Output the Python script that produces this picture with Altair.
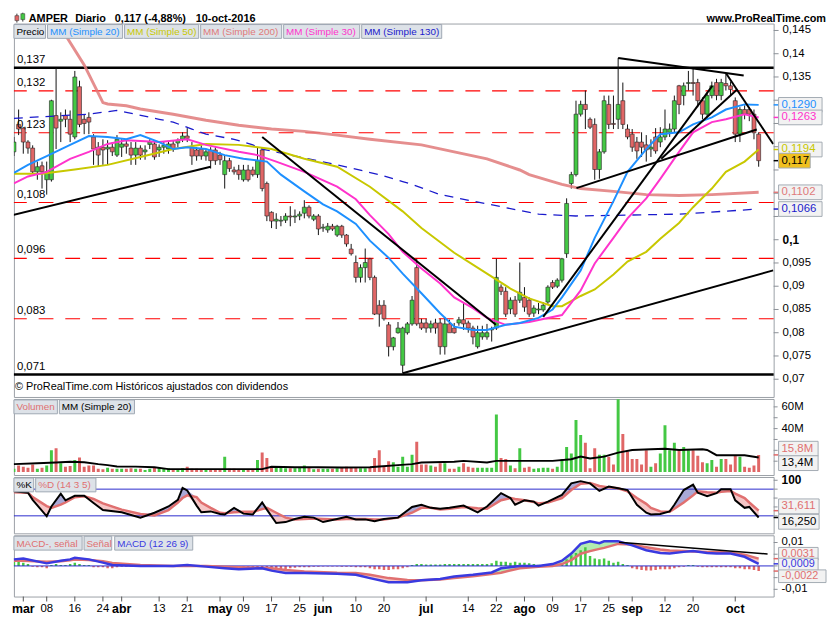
import altair as alt
import pandas as pd

# ---------------- data ----------------
opens = [.1189,.1248,.1240,.1210,.1197,.1146,.1159,.1129,.1129,.1267,.1255,.1267,.1259,.1221,.1329,.1259,.1263,.1221,.1199,.1199,
         .1195,.1199,.1182,.1199,.1206,.1197,.1182,.1197,.1189,.1205,.1206,.1193,.1199,.1195,.1206,.1208,.1216,.1223,.1199,.1193,
         .1195,.1180,.1193,.1193,.1182,.1140,.1170,.1150,.1150,.1129,.1150,.1150,.1140,.1193,.1121,.1059,.1040,.1040,.1042,.1051,
         .1049,.1051,.1057,.1070,.1044,.1051,.1025,.1021,.1029,.1010,.1029,.1010,.0980,.0951,.0919,.0940,.0959,.0919,.0859,.0859,
         .0817,.0770,.0800,.0730,.0800,.0819,.0940,.0821,.0821,.0810,.0821,.0821,.0770,.0819,.0810,.0821,.0828,.0821,.0810,.0770,
         .0791,.0791,.0806,.0810,.0898,.0889,.0851,.0870,.0870,.0876,.0870,.0842,.0849,.0849,.0866,.0908,.0900,.0913,.0970,.1121,
         .1140,.1270,.1291,.1259,.1248,.1151,.1189,.1291,.1250,.1259,.1299,.1238,.1227,.1210,.1210,.1204,.1195,.1221,.1210,.1221,
         .1231,.1238,.1331,.1310,.1336,.1338,.1338,.1299,.1270,.1310,.1338,.1310,.1336,.1331,.1299,.1227,.1280,.1280,.1270,.1227]
highs = [.1221,.1280,.1242,.1214,.1203,.1168,.1168,.1168,.1301,.1369,.1274,.1280,.1278,.1363,.1342,.1270,.1274,.1227,.1210,.1216,
         .1214,.1210,.1225,.1216,.1214,.1210,.1210,.1203,.1203,.1216,.1214,.1205,.1210,.1210,.1214,.1218,.1231,.1240,.1210,.1199,
         .1203,.1193,.1199,.1199,.1189,.1182,.1176,.1157,.1161,.1161,.1161,.1157,.1199,.1199,.1125,.1061,.1057,.1051,.1057,.1072,
         .1065,.1061,.1085,.1074,.1055,.1055,.1034,.1036,.1034,.1032,.1032,.1012,.0991,.0966,.0947,.0981,.0961,.0923,.0870,.0870,
         .0823,.0791,.0823,.0813,.0823,.0879,.0959,.0830,.0830,.0826,.0830,.0830,.0834,.0828,.0821,.0834,.0864,.0826,.0815,.0815,
         .0815,.0819,.0813,.0959,.0904,.0898,.0876,.0879,.0951,.0898,.0876,.0859,.0864,.0866,.0902,.0913,.0917,.0961,.1089,.1146,
         .1299,.1299,.1321,.1263,.1261,.1195,.1310,.1310,.1310,.1391,.1338,.1248,.1238,.1221,.1231,.1225,.1216,.1240,.1242,.1280,
         .1250,.1310,.1333,.1338,.1363,.1369,.1346,.1306,.1317,.1340,.1346,.1346,.1357,.1340,.1306,.1285,.1289,.1285,.1280,.1231]
lows = [.1180,.1225,.1185,.1185,.1142,.1129,.1110,.1097,.1125,.1195,.1210,.1242,.1210,.1216,.1242,.1227,.1227,.1161,.1157,.1161,
        .1161,.1180,.1178,.1178,.1185,.1161,.1161,.1172,.1172,.1195,.1172,.1178,.1185,.1185,.1189,.1199,.1210,.1210,.1161,.1170,
        .1172,.1170,.1153,.1161,.1161,.1110,.1146,.1140,.1129,.1125,.1125,.1136,.1133,.1104,.1040,.1025,.1023,.1029,.1036,.1029,
        .1036,.1042,.1046,.1046,.1040,.1010,.1017,.1015,.1019,.1006,.1004,.0985,.0966,.0908,.0908,.0908,.0913,.0838,.0813,.0826,
        .0749,.0762,.0798,.0713,.0796,.0815,.0815,.0806,.0800,.0800,.0798,.0753,.0753,.0806,.0798,.0815,.0806,.0800,.0775,.0766,
        .0785,.0785,.0781,.0806,.0881,.0834,.0840,.0834,.0864,.0845,.0834,.0834,.0840,.0845,.0862,.0894,.0896,.0908,.0961,.1110,
        .1136,.1265,.1238,.1238,.1129,.1131,.1185,.1238,.1238,.1238,.1238,.1216,.1189,.1174,.1178,.1168,.1178,.1185,.1199,.1214,
        .1221,.1231,.1270,.1289,.1321,.1310,.1285,.1259,.1263,.1304,.1300,.1300,.1321,.1310,.1210,.1210,.1259,.1255,.1216,.1157]
closes = [.1210,.1238,.1210,.1197,.1146,.1157,.1146,.1146,.1299,.1240,.1259,.1259,.1227,.1350,.1248,.1250,.1253,.1195,.1182,.1193,
          .1199,.1189,.1216,.1206,.1201,.1182,.1197,.1182,.1193,.1210,.1178,.1199,.1203,.1206,.1195,.1214,.1223,.1218,.1180,.1180,
          .1180,.1189,.1170,.1170,.1172,.1170,.1153,.1146,.1140,.1150,.1129,.1140,.1170,.1110,.1051,.1040,.1044,.1042,.1051,.1049,
          .1051,.1055,.1070,.1051,.1051,.1023,.1027,.1029,.1023,.1029,.1010,.0991,.0970,.0919,.0940,.0951,.0919,.0840,.0840,.0830,
          .0770,.0789,.0810,.0810,.0819,.0870,.0819,.0810,.0810,.0819,.0810,.0770,.0819,.0800,.0800,.0828,.0819,.0810,.0791,.0800,
          .0800,.0800,.0808,.0919,.0889,.0840,.0870,.0840,.0887,.0855,.0840,.0853,.0851,.0859,.0898,.0898,.0913,.0959,.1078,.1140,
          .1270,.1291,.1280,.1242,.1151,.1189,.1299,.1248,.1248,.1291,.1248,.1221,.1199,.1191,.1199,.1193,.1199,.1191,.1221,.1238,
          .1238,.1299,.1291,.1331,.1338,.1336,.1299,.1270,.1310,.1331,.1310,.1338,.1331,.1323,.1227,.1280,.1270,.1270,.1230,.1170]
volumes = [3,6,5,4,7,3,4,6,20,22,8,5,5.5,11,13.5,5,6,6,3,2.5,
           4,3,3,3,3,3.5,3,3,2,3,4,4,3.5,3.5,2.5,2.5,3.5,5,3,3,
           2.5,2.5,2.5,2.5,2.5,14,3,3,2.5,2.5,2.5,2.5,11,18,13,5,5,5,3.5,3.5,
           3.5,4,6,4,2.5,3,3,3,3,3.5,4,5,4,4,3.5,3.5,4,13,20,5,
           10,9,5,14,5,16,28,7,7,6,5,8,8,3,3,5,8,5,4,4,
           4,4,4,53,13,12,6,3.5,22,4,5,3,3.5,4,4,3,5,12,23,17,
           48,34,27,3.5,22,16,16,14,7,67,35,19,12,12,7,20,5,8,17,43,
           20,27,20,23,20,20,15,9,8,11,5,12,12,7,15,14,5,4,6,15.8]
macd_hist = [.0018,.0022,.0014,.0008,-.0003,-.0006,-.0006,-.001,.0004,.0008,.0004,.0004,.0008,.0014,.0008,.0004,.0004,-.0006,-.0006,-.0006,
             -.001,-.001,-.0006,-.0004,-.0004,-.0004,-.0004,-.0004,-.0003,-.0003,-.0003,-.0003,-.0002,-.0002,-.0002,.0002,.0003,.0002,-.0002,-.0003,
             -.0003,-.0003,-.0004,-.0004,-.0004,-.0006,-.0006,-.0006,-.0008,-.001,-.001,-.001,-.001,-.001,-.0014,-.0017,-.0014,-.0017,-.0014,-.001,
             -.0008,-.0006,-.0006,-.0006,-.0004,-.0003,-.0002,-.0002,-.0002,-.0002,-.0003,-.0004,-.0004,-.0006,-.0006,-.0006,-.001,-.0014,-.0014,-.0017,
             -.0017,-.0014,-.0014,-.001,-.0006,.0004,.0008,.0008,.0006,.0006,.0006,.0006,.0008,.0008,.0008,.0008,.0008,.0008,.0008,.0008,
             .0008,.0008,.0011,.0022,.0018,.0018,.0014,.0018,.0014,.0014,.0011,.0008,.0005,.0005,.0005,.0005,.0005,.0011,.0028,.0046,
             .0055,.0067,.008,.0042,.0032,.0028,.0032,.0022,.0014,.0018,.0008,.0004,-.001,-.0014,-.0017,-.002,-.002,-.0017,-.0014,-.0014,
             -.0014,-.001,-.0006,-.0003,.0004,.0004,-.0003,-.0006,-.0006,-.0006,-.0006,-.0006,-.0006,-.0006,-.001,-.001,-.0014,-.0014,-.0017,-.0022]

ma20_idx = [0,3,7,12,16,20,24,27,31,34,37,41,45,49,54,57,62,66,69,73,76,80,83,87,91,94,98,101,105,108,
            112,115,117,121,124,128,131,135,138,142,145,149,152,156,159]
ma20_val = [.1144,.1161,.1180,.1204,.1223,.1221,.1216,.1225,.1210,.1195,.1199,.1195,.1182,.1174,.1168,.1140,.1104,.1076,.1061,.1034,
            .0998,.0961,.0927,.0885,.0842,.0813,.0806,.0806,.0817,.0821,.0832,.0850,.0876,.0934,.1004,.1083,.1146,.1195,.1227,.1231,
            .1248,.1263,.1280,.1291,.1290]
ma30_idx = [0,3,7,12,16,20,24,31,37,41,48,52,56,62,69,73,76,80,83,87,91,94,98,101,105,110,117,121,124,128,131,135,138,142,145,149,152,156,159]
ma30_val = [.1121,.1136,.1146,.1174,.1189,.1206,.1214,.1210,.1216,.1204,.1189,.1182,.1168,.1146,.1114,.1087,.1053,.1012,.0974,.0938,
            .0906,.0876,.0853,.0832,.0817,.0823,.0838,.0891,.0949,.1004,.1046,.1089,.1131,.1189,.1231,.1253,.1259,.1270,.1263]
ma50_idx = [0,6,13,20,27,34,41,48,55,62,69,76,83,87,94,101,106,110,115,117,121,124,128,131,135,138,142,145,149,152,156,159]
ma50_val = [.1142,.1142,.1151,.1161,.1178,.1195,.1206,.1204,.1195,.1174,.1157,.1114,.1061,.1025,.0972,.0927,.0895,.0874,.0857,.0857,
            .0879,.0893,.0925,.0953,.0974,.1002,.1036,.1070,.1110,.1146,.1168,.1194]
ma200_idx = [9,11,15,19,20,24,27,34,41,48,55,62,69,76,87,101,108,110,115,117,121,128,135,142,149,159]
ma200_val = [.1480,.1440,.1376,.1295,.1292,.1288,.1281,.1270,.1257,.1246,.1238,.1233,.1225,.1216,.1204,.1174,.1150,.1140,.1125,.1119,
             .1110,.1104,.1097,.1095,.1097,.1102]
ma130_idx = [0,16,22,24,31,34,38,41,47,51,53,59,69,78,83,85,91,112,120,131,142,159]
ma130_val = [.1261,.1270,.1278,.1274,.1259,.1253,.1238,.1227,.1216,.1204,.1195,.1182,.1161,.1140,.1125,.1119,.1097,.1055,.1051,.1053,.1055,.1066]

red_levels = [0.132, 0.123, 0.108, 0.096, 0.083]
black_levels = [0.137, 0.071]
level_labels = [0.137, 0.132, 0.123, 0.108, 0.096, 0.083, 0.071]

trend_id = ["a", "a", "b", "b", "c", "c", "d", "d", "e", "e", "f", "f", "g", "g", "h", "h"]
trend_i = [-0.62, 42, 53, 102.9, 83, 162.1, 113, 149.1, 138.2, 154.4, 120.1, 158.6, 129, 155.8, 152.1, 162.1]
trend_p = [.1052, .1157, .1221, .0817, .0713, .0934, .0834, .1331, .1174, .1323, .1111, .1237, .1391, .1353, .1357, .1206]

volma_idx = [0,5,9,12,15,18,20,22,26,30,33,40,45,50,53,55,60,65,70,76,78,82,85,87,94,96,101,103,115,119,121,123,126,129,132,136,139,142,147,148,150,153,156,159]
volma_val = [7.3,8.2,8.8,9.4,9.0,7.3,6.4,5.2,5.0,4.5,2.7,2.7,2.7,2.7,2.7,4.8,4.5,4.5,4.2,4.5,5.2,6.4,7.3,8.8,9.4,10.3,8.8,10.3,10.3,11.8,
             14.2,12.4,14.2,17.9,20.3,20.9,21.5,20.3,20.9,20.3,15.5,15.5,15.5,13.4]

stoch_idx = [0,3,4,7,8,10,11,13,15,17,19,23,27,30,33,35,36,37,39,40,42,44,45,47,49,51,53,54,56,58,
             60,62,64,66,69,71,73,75,77,79,82,85,87,89,91,93,96,99,101,104,106,107,109,111,112,114,117,119,121,123,
             125,127,129,131,133,135,136,138,140,141,143,145,146,148,150,151,153,154,156,157,159]
stoch_k = [75,72,56,19,41,70,55,65,65,49,33,28,16,27,41,56,83,77,43,28,30,24,23,38,25,23,50,34,4,6,
           13,18,16,6,13,18,12,12,8,13,16,40,45,38,36,38,43,28,41,71,60,45,55,52,43,52,67,93,98,93,
           76,86,82,78,45,27,23,24,30,45,78,90,72,64,71,80,80,55,38,40,16.25]
stoch_d = [73,72,62,42,38,45,50,62,64,58,48,34,24,21,33,50,60,66,62,50,38,27,26,28,29,29,35,38,27,16,
           12,13,14,13,12,13,13,13,12,12,16,27,38,38,34,36,40,37,36,55,60,58,55,51,48,50,60,78,92,94,
           87,84,82,75,60,47,38,30,29,36,50,66,75,73,72,74,76,70,60,50,31.6]

macd_idx = [0,2,7,10,12,13,16,19,21,27,34,37,41,45,48,53,55,58,62,69,73,76,80,84,87,91,94,98,102,104,
            108,112,115,117,119,121,123,125,126,129,132,135,138,140,143,145,148,150,153,156,159]
macd_line = [.0028,.0032,.0011,.0022,.0028,.0035,.0028,.0014,.0004,0,0,.0004,-.0003,-.001,-.0014,-.001,-.002,-.003,-.003,-.0033,
             -.0038,-.0052,-.007,-.007,-.0061,-.0056,-.0045,-.0038,-.0028,-.001,0,0,.0008,.0022,.0053,.0094,.0105,.0097,.0105,.0105,
             .0088,.0067,.0055,.0053,.006,.0064,.0055,.0053,.0053,.0039,.0009]
macd_signal = [.0022,.0022,.0018,.002,.0024,.0027,.0025,.002,.0013,.0004,0,0,0,-.0003,-.0006,-.0009,-.001,-.0017,-.0024,-.0029,
               -.003,-.0038,-.0052,-.006,-.0061,-.0058,-.0052,-.0044,-.0035,-.0029,-.001,-.0004,0,.0008,.0025,.0052,.0063,.0073,.0077,.0094,
               .0091,.008,.007,.0066,.0064,.0062,.006,.006,.0056,.0048,.0031]
macd_trend_i = [129.2, 160.9]
macd_trend_v = [.0101, .0051]

tick_idx = [2,7,13,19,23,31,37,44,49,55,61,66,73,79,88,97,103,109,115,121,127,132,139,145,154]
tick_lbl = ["mar","08","16","24","abr","13","21","may","09","17","25","jun","10","20","jul","14","22","ago","09","17","25","sep","12","20","oct"]
month_names = ["mar","abr","may","jun","jul","ago","sep","oct"]

price_ticks = [0.07,0.075,0.08,0.085,0.09,0.095,0.1,0.105,0.11,0.115,0.12,0.125,0.13,0.135,0.14,0.145]
price_tick_lbl = ["0,07","0,075","0,08","0,085","0,09","0,095","0,1","","","","","","","0,135","0,14","0,145"]
vol_ticks = [10, 20, 30, 40, 50, 60]
vol_tick_lbl = ["", "", "", "40M", "", "60M"]
sto_ticks = [20, 40, 60, 80, 100]
sto_tick_lbl = ["", "", "", "", "100"]
macd_ticks = [-0.01, -0.005, 0, 0.005, 0.01]
macd_tick_lbl = ["-0,01", "", "", "", "0,01"]

price_box_val = [0.1290, 0.1263, 0.1194, 0.1102, 0.1066]
price_box_txt = ["0,1290", "0,1263", "0,1194", "0,1102", "0,1066"]
price_box_ser = ["ma20", "ma30", "ma50", "ma200", "ma130"]
last_price = 0.117

# ---------------- styling ----------------
FONT = "Liberation Sans"
W = 769
H_P, H_V, H_S, H_M = 378, 77, 57, 62
GREEN, RED = "#44c844", "#e06666"
COL = {"ma20": "#1e90ff", "ma30": "#ff33cc", "ma50": "#c8c800", "ma200": "#e07a7a", "ma130": "#1a1acc"}
CHIP_FILL, CHIP_STROKE = "#dde2e8", "#9ea8b3"
BOX_FILL, BOX_STROKE = "#f2f2f2", "#a3abb3"
AX = "#8a8f96"

xs = alt.Scale(domain=[0.0, 162.2], nice=False, zero=False, padding=0)
ps = alt.Scale(domain=[0.06618, 0.14649], nice=False, zero=False, padding=0)
vs = alt.Scale(domain=[-2.73, 67.27], nice=False, zero=False, padding=0)
ss = alt.Scale(domain=[-19.3, 107.3], nice=False, zero=False, padding=0)
ms = alt.Scale(domain=[-0.01308, 0.01308], nice=False, zero=False, padding=0)
dir_scale = alt.Scale(domain=["up", "down"], range=[GREEN, RED])

one = pd.DataFrame({"k": [0]})


def X(field="i"):
    return alt.X(f"{field}:Q", scale=xs, axis=None)


def txt(t, x, y, color="#000", size=11, weight="normal", align="left"):
    return alt.Chart(one).mark_text(text=t, color=color, fontSize=size, fontWeight=weight,
                                     align=align, baseline="middle", font=FONT).encode(
        x=alt.value(x), y=alt.value(y))


def chip(t, x0, x1, color, y0=1, h=14):
    r = alt.Chart(one).mark_rect(fill=CHIP_FILL, stroke=CHIP_STROKE, strokeWidth=1).encode(
        x=alt.value(x0), x2=alt.value(x1), y=alt.value(y0), y2=alt.value(y0 + h))
    return [r, txt(t, x0 + 2.5, y0 + h / 2 + 0.5, color, 10)]


def vbox(val, label, color, scale, half, x1, fill=BOX_FILL, size=11.5):
    d = pd.DataFrame({"bv": [val], "lab": [label]})
    r = alt.Chart(d).transform_calculate(t=f"datum.bv + {half}", b=f"datum.bv - {half}").mark_rect(
        fill=fill, stroke=BOX_STROKE, strokeWidth=1).encode(
        x=alt.value(W + 5), x2=alt.value(x1), y=alt.Y("t:Q", scale=scale, axis=None), y2="b:Q")
    t = alt.Chart(d).mark_text(color=color, fontSize=size, font=FONT, align="left", baseline="middle").encode(
        x=alt.value(W + 8), y=alt.Y("bv:Q", scale=scale, axis=None), text="lab:N")
    return [r, t]


def marker(val, color, scale):
    d = pd.DataFrame({"mv": [val]})
    return alt.Chart(d).mark_rule(color=color, strokeWidth=1.5).encode(
        x=alt.value(W), x2=alt.value(W + 5), y=alt.Y("mv:Q", scale=scale, axis=None))


def right_axis(vals, labels, scale, size=11.5, bold_labels=(), tick=5):
    """right-hand value axis drawn with rules and texts"""
    d = pd.DataFrame({"tv": vals, "tl": labels})
    d["b"] = [lab in bold_labels for lab in labels]
    ticks = alt.Chart(d).mark_rule(color=AX, strokeWidth=1).encode(
        x=alt.value(W), x2=alt.value(W + tick), y=alt.Y("tv:Q", scale=scale, axis=None))
    lab_n = alt.Chart(d).transform_filter("!datum.b").mark_text(
        align="left", baseline="middle", fontSize=size, font=FONT, color="#000").encode(
        x=alt.value(W + tick + 4), y=alt.Y("tv:Q", scale=scale, axis=None), text="tl:N")
    lab_b = alt.Chart(d).transform_filter("datum.b").mark_text(
        align="left", baseline="middle", fontSize=size + 0.5, fontWeight="bold", font=FONT, color="#000").encode(
        x=alt.value(W + tick + 4), y=alt.Y("tv:Q", scale=scale, axis=None), text="tl:N")
    return [ticks, lab_n, lab_b]


def time_axis():
    d = pd.DataFrame({"ti": tick_idx, "tl": tick_lbl})
    d["m"] = [t in month_names for t in tick_lbl]
    ticks = alt.Chart(d).mark_rule(color="#555", strokeWidth=1).encode(
        x=alt.X("ti:Q", scale=xs, axis=None), y=alt.value(H_M), y2=alt.value(H_M + 5))
    days = alt.Chart(d).transform_filter("!datum.m").mark_text(
        align="center", baseline="middle", fontSize=11.5, font=FONT, color="#000").encode(
        x=alt.X("ti:Q", scale=xs, axis=None), y=alt.value(H_M + 13), text="tl:N")
    months = alt.Chart(d).transform_filter("datum.m").mark_text(
        align="center", baseline="middle", fontSize=12.5, fontWeight="bold", font=FONT, color="#000").encode(
        x=alt.X("ti:Q", scale=xs, axis=None), y=alt.value(H_M + 13), text="tl:N")
    return [ticks, days, months]


def series_df(idx, vals):
    return pd.DataFrame({"i": idx, "v": vals})


# ---------------- price panel ----------------
cand = pd.DataFrame({"i": list(range(len(closes))), "o": opens, "h": highs, "l": lows, "c": closes})
cand["dir"] = ["up" if c >= o else "down" for o, c in zip(opens, closes)]

red_lines = alt.Chart(pd.DataFrame({"y": red_levels})).mark_rule(
    color="#ff0000", strokeDash=[15, 12], strokeWidth=1.2).encode(y=alt.Y("y:Q", scale=ps, axis=None))
black_lines = alt.Chart(pd.DataFrame({"y": black_levels})).mark_rule(
    color="#000", strokeWidth=2.5).encode(y=alt.Y("y:Q", scale=ps, axis=None))

wicks = alt.Chart(cand).mark_rule(color="#111", strokeWidth=1, clip=True).encode(
    x=X(), y=alt.Y("l:Q", scale=ps, axis=None), y2="h:Q")
bodies = alt.Chart(cand).mark_bar(size=4, stroke="#222", strokeWidth=0.6, clip=True).encode(
    x=X(), y=alt.Y("o:Q", scale=ps, axis=None), y2="c:Q",
    color=alt.Color("dir:N", scale=dir_scale, legend=None))


def ma_line(idx, vals, key, width=2, dash=None, opacity=1.0):
    kw = dict(color=COL[key], strokeWidth=width, clip=True, opacity=opacity)
    if dash:
        kw["strokeDash"] = dash
    return alt.Chart(series_df(idx, vals)).mark_line(**kw).encode(
        x=X(), y=alt.Y("v:Q", scale=ps, axis=None))


ma200_l = ma_line(ma200_idx, ma200_val, "ma200", 3, opacity=0.85)
ma130_l = ma_line(ma130_idx, ma130_val, "ma130", 1.3, dash=[9, 7])
ma50_l = ma_line(ma50_idx, ma50_val, "ma50", 2)
ma30_l = ma_line(ma30_idx, ma30_val, "ma30", 2)
ma20_l = ma_line(ma20_idx, ma20_val, "ma20", 2)

trend = alt.Chart(pd.DataFrame({"seg": trend_id, "i": trend_i, "v": trend_p})).mark_line(
    color="#000", strokeWidth=2, clip=True).encode(
    x=X(), y=alt.Y("v:Q", scale=ps, axis=None), detail="seg:N")

lvl_df = pd.DataFrame({"y": level_labels, "lab": [f"{v:.3f}".replace(".", ",") for v in level_labels]})
lvl_text = alt.Chart(lvl_df).mark_text(fontSize=11.5, font=FONT, align="left", baseline="middle",
                                       color="#000", dy=-8).encode(
    x=alt.value(3), y=alt.Y("y:Q", scale=ps, axis=None), text="lab:N")

price_layers = [red_lines, black_lines, wicks, bodies,
                ma200_l, ma130_l, ma50_l, ma30_l, ma20_l, trend, lvl_text]
price_layers += right_axis(price_ticks, price_tick_lbl, ps, bold_labels=("0,1",))
price_layers += chip("Precio", 0, 32, "#000")
price_layers += chip("MM (Simple 20)", 34, 110, COL["ma20"])
price_layers += chip("MM (Simple 50)", 112, 187, COL["ma50"])
price_layers += chip("MM (Simple 200)", 189, 271, COL["ma200"])
price_layers += chip("MM (Simple 30)", 273, 350, COL["ma30"])
price_layers += chip("MM (Simple 130)", 352, 433, COL["ma130"])
price_layers.append(txt("© ProRealTime.com  Históricos ajustados con dividendos", 1, 368, "#000", 11))
# header
price_layers.append(alt.Chart(one).mark_rule(color="#333", strokeWidth=1).encode(
    x=alt.value(3), y=alt.value(-10), y2=alt.value(-1)))
price_layers.append(alt.Chart(one).mark_rect(fill=RED, stroke="#333", strokeWidth=0.5).encode(
    x=alt.value(1), x2=alt.value(5), y=alt.value(-8), y2=alt.value(-3)))
price_layers.append(alt.Chart(one).mark_rule(color="#333", strokeWidth=1).encode(
    x=alt.value(9), y=alt.value(-11), y2=alt.value(-2)))
price_layers.append(alt.Chart(one).mark_rect(fill=GREEN, stroke="#333", strokeWidth=0.5).encode(
    x=alt.value(7), x2=alt.value(11), y=alt.value(-10), y2=alt.value(-4)))
price_layers.append(txt("AMPER", 15, -5, "#000", 11, "bold"))
price_layers.append(txt("Diario", 62, -5, "#000", 11, "bold"))
price_layers.append(txt("0,117 (-4,88%)", 102, -5, "#000", 11, "bold"))
price_layers.append(txt("10-oct-2016", 184, -5, "#000", 11, "bold"))
price_layers.append(txt("www.ProRealTime.com", W + 53, -5, "#000", 11, "bold", align="right"))
# right value boxes
for v, ser in zip(price_box_val, price_box_ser):
    price_layers.append(marker(v, COL[ser], ps))
for v, lab, ser in zip(price_box_val, price_box_txt, price_box_ser):
    price_layers += vbox(v, lab, COL[ser], ps, 0.00158, W + 49)
price_layers.append(marker(last_price, "#000", ps))
price_layers += vbox(last_price, "0,117", "#000", ps, 0.00158, W + 37, fill="#f0c020")

price = alt.layer(*price_layers).properties(width=W, height=H_P)

# ---------------- volume panel ----------------
vol_df = pd.DataFrame({"i": list(range(len(volumes))), "vol": volumes, "dir": cand["dir"]})
vol_bars = alt.Chart(vol_df).mark_bar(size=3, clip=True).encode(
    x=X(), y=alt.Y("vol:Q", scale=vs, axis=None), y2=alt.datum(0),
    color=alt.Color("dir:N", scale=dir_scale, legend=None))
vol_ma = alt.Chart(series_df(volma_idx, volma_val)).mark_line(color="#000", strokeWidth=2).encode(
    x=X(), y=alt.Y("v:Q", scale=vs, axis=None))
vol_layers = [vol_bars, vol_ma]
vol_layers += right_axis(vol_ticks, vol_tick_lbl, vs, tick=4)
vol_layers += chip("Volumen", 0, 44, "#e07070")
vol_layers += chip("MM (Simple 20)", 46, 122, "#000")
vol_layers.append(marker(15.8, RED, vs))
vol_layers += vbox(21.5, "15,8M", "#e07070", vs, 6.8, W + 45)
vol_layers += vbox(8.2, "13,4M", "#000", vs, 6.8, W + 45)
vol = alt.layer(*vol_layers).properties(width=W, height=H_V)

# ---------------- stochastic panel ----------------
sto_df = pd.DataFrame({"i": stoch_idx, "k": stoch_k, "d": stoch_d})
sto_up = alt.Chart(sto_df).transform_calculate(hi="max(datum.k, datum.d)").mark_area(
    color="#a9a9d6").encode(x=X(), y=alt.Y("d:Q", scale=ss, axis=None), y2="hi:Q")
sto_dn = alt.Chart(sto_df).transform_calculate(lo="min(datum.k, datum.d)").mark_area(
    color="#f5c6c6").encode(x=X(), y=alt.Y("d:Q", scale=ss, axis=None), y2="lo:Q")
sto_rules = alt.Chart(pd.DataFrame({"y": [80, 20]})).mark_rule(color="#2a2acc", strokeWidth=1).encode(
    y=alt.Y("y:Q", scale=ss, axis=None))
sto_k = alt.Chart(sto_df).mark_line(color="#000", strokeWidth=2).encode(
    x=X(), y=alt.Y("k:Q", scale=ss, axis=None))
sto_d = alt.Chart(sto_df).mark_line(color="#e07070", strokeWidth=2.5).encode(
    x=X(), y=alt.Y("d:Q", scale=ss, axis=None))
sto_layers = [sto_up, sto_dn, sto_rules, sto_d, sto_k]
sto_layers += right_axis(sto_ticks, sto_tick_lbl, ss, bold_labels=("100",), tick=4)
sto_layers += chip("%K", 0, 20, "#000")
sto_layers += chip("%D (14 3 5)", 22, 83, "#e07070")
sto_layers.append(marker(31.6, RED, ss))
sto_layers.append(marker(16.25, "#000", ss))
sto_layers += vbox(41.3, "31,611", "#e07070", ss, 16.7, W + 46)
sto_layers += vbox(6.7, "16,250", "#000", ss, 16.7, W + 46)
sto = alt.layer(*sto_layers).properties(width=W, height=H_S)

# ---------------- MACD panel ----------------
hist_df = pd.DataFrame({"i": list(range(len(macd_hist))), "hv": macd_hist,
                        "dir": ["up" if h >= 0 else "down" for h in macd_hist]})
m_df = pd.DataFrame({"i": macd_idx, "m": macd_line, "s": macd_signal})
hist = alt.Chart(hist_df).mark_bar(size=2.5, clip=True).encode(
    x=X(), y=alt.Y("hv:Q", scale=ms, axis=None), y2=alt.datum(0),
    color=alt.Color("dir:N", scale=dir_scale, legend=None))
m_up = alt.Chart(m_df).transform_calculate(hi="max(datum.m, datum.s)").mark_area(
    color="#b2ecb0").encode(x=X(), y=alt.Y("s:Q", scale=ms, axis=None), y2="hi:Q")
m_dn = alt.Chart(m_df).transform_calculate(lo="min(datum.m, datum.s)").mark_area(
    color="#f5c6c6").encode(x=X(), y=alt.Y("s:Q", scale=ms, axis=None), y2="lo:Q")
zero_rule = alt.Chart(pd.DataFrame({"y": [0]})).mark_rule(color="#2a2acc", strokeWidth=1).encode(
    y=alt.Y("y:Q", scale=ms, axis=None))
sig_l = alt.Chart(m_df).mark_line(color="#e07070", strokeWidth=2.5).encode(
    x=X(), y=alt.Y("s:Q", scale=ms, axis=None))
macd_l = alt.Chart(m_df).mark_line(color="#3a3ae0", strokeWidth=2.5).encode(
    x=X(), y=alt.Y("m:Q", scale=ms, axis=None))
m_trend = alt.Chart(pd.DataFrame({"i": macd_trend_i, "v": macd_trend_v})).mark_line(
    color="#000", strokeWidth=1.6).encode(x=X(), y=alt.Y("v:Q", scale=ms, axis=None))
macd_layers = [m_up, m_dn, hist, zero_rule, sig_l, macd_l, m_trend]
macd_layers += right_axis(macd_ticks, macd_tick_lbl, ms, tick=4)
macd_layers += time_axis()
macd_layers += chip("MACD-, señal", 0, 69, "#e07070")
macd_layers += chip("Señal", 71, 99, "#e07070")
macd_layers += chip("MACD (12 26 9)", 102, 181, "#3a3ae0")
macd_layers.append(marker(0.0031, RED, ms))
macd_layers.append(marker(0.0009, "#3a3ae0", ms))
macd_layers.append(marker(-0.0022, RED, ms))
macd_layers += vbox(0.0052, "0,0031", "#e07070", ms, 0.0027, W + 45, size=11)
macd_layers += vbox(0.0006, "0,0009", "#3a3ae0", ms, 0.0027, W + 45, size=11)
macd_layers += vbox(-0.0044, "-0,0022", "#e07070", ms, 0.0027, W + 53, size=11)
macd = alt.layer(*macd_layers).properties(width=W, height=H_M)

chart = alt.vconcat(price, vol, sto, macd, spacing=2, bounds="flush").resolve_scale(
    y="independent", color="independent").properties(
    padding=0, background="white").configure_view(
    stroke="#9aa0a6", strokeWidth=1)

chart.save("out.html", embed_options={"renderer": "svg", "actions": False})
